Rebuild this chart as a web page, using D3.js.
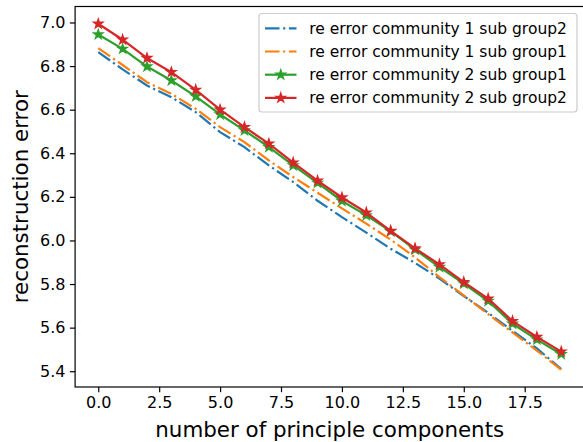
<!DOCTYPE html>
<html><head><meta charset="utf-8">
<script src="https://cdn.jsdelivr.net/npm/d3@7"></script>
<style>
body{margin:0;background:#fff}
svg{display:block}
text{font-family:"DejaVu Sans",sans-serif;fill:#000}
</style>
</head><body><svg id="c" width="583" height="442"></svg>
<script>
// ---- data ----
const components = [0,1,2,3,4,5,6,7,8,9,10,11,12,13,14,15,16,17,18,19];
const comm1Group2 = [6.864,6.785,6.711,6.657,6.589,6.497,6.428,6.344,6.268,6.182,6.107,6.036,5.962,5.897,5.825,5.745,5.668,5.585,5.505,5.410];
const comm1Group1 = [6.882,6.805,6.726,6.673,6.604,6.520,6.451,6.367,6.291,6.219,6.147,6.077,6.004,5.922,5.832,5.748,5.662,5.578,5.495,5.407];
const comm2Group1 = [6.945,6.879,6.798,6.734,6.661,6.578,6.505,6.428,6.344,6.264,6.181,6.115,6.042,5.958,5.878,5.802,5.722,5.618,5.545,5.478];
const comm2Group2 = [6.994,6.921,6.837,6.772,6.691,6.600,6.520,6.444,6.357,6.274,6.197,6.128,6.044,5.964,5.890,5.809,5.733,5.630,5.557,5.490];
const seriesLabels = ["re error community 1 sub group2","re error community 1 sub group1","re error community 2 sub group1","re error community 2 sub group2"];
const seriesColors = ["#1f77b4","#ff7f0e","#2ca02c","#d62728"];
const seriesStyle = ["dashdot","dashdot","star","star"];
const xTicks = [0,2.5,5,7.5,10,12.5,15,17.5];
const yTicks = [5.4,5.6,5.8,6.0,6.2,6.4,6.6,6.8,7.0];
const xLabel = "number of principle components";
const yLabel = "reconstruction error";

// ---- layout ----
const svg = d3.select("#c");
const L = 75.1, R = 584.4, T = 6.5, B = 387;
const allSeries = [comm1Group2, comm1Group1, comm2Group1, comm2Group2];
const xExt = d3.extent(components), xPad = (xExt[1]-xExt[0])*0.05;
const allV = allSeries.flat(), yExt = d3.extent(allV), yPad = (yExt[1]-yExt[0])*0.05;
const x = d3.scaleLinear().domain([xExt[0]-xPad, xExt[1]+xPad]).range([L, R]);
const y = d3.scaleLinear().domain([yExt[0]-yPad, yExt[1]+yPad]).range([B, T]);

const lw = 2.2, dash = "14.5,3.6,2.2,3.6";
const starSize = 4.6*4.6/0.8908130915292852;

svg.append("clipPath").attr("id","clip").append("rect").attr("x",L).attr("y",T).attr("width",R-L).attr("height",B-T);

const line = d3.line().x((d,i)=>x(components[i])).y(d=>y(d));
const plot = svg.append("g").attr("clip-path","url(#clip)");
allSeries.forEach((s,k)=>{
  const p = plot.append("path").datum(s).attr("d",line).attr("fill","none")
    .attr("stroke",seriesColors[k]).attr("stroke-width",lw).attr("stroke-linejoin","round");
  if(seriesStyle[k]==="dashdot") p.attr("stroke-dasharray",dash).attr("stroke-linecap","butt");
  if(seriesStyle[k]==="star"){
    plot.selectAll(null).data(s).enter().append("path")
      .attr("d",d3.symbol(d3.symbolStar,starSize)())
      .attr("transform",(d,i)=>`translate(${x(components[i])},${y(d)})`)
      .attr("fill",seriesColors[k]).attr("stroke",seriesColors[k]).attr("stroke-width",1.5).attr("stroke-linejoin","miter");
  }
});

// ---- axes ----
const fs = 16;
const xAxis = d3.axisBottom(x).tickValues(xTicks).tickFormat(d3.format(".1f")).tickSizeOuter(0).tickSize(5.2).tickPadding(4);
const yAxis = d3.axisLeft(y).tickValues(yTicks).tickFormat(d3.format(".1f")).tickSizeOuter(0).tickSize(5.2).tickPadding(4.5);
const gx = svg.append("g").attr("transform",`translate(0,${B})`).call(xAxis);
const gy = svg.append("g").attr("transform",`translate(${L},0)`).call(yAxis);
[gx,gy].forEach(g=>{
  g.select(".domain").remove();
  g.selectAll(".tick line").attr("stroke","#000").attr("stroke-width",1.2);
  g.selectAll(".tick text").attr("font-family","DejaVu Sans").attr("font-size",fs).attr("fill","#000");
});
// spines
svg.append("rect").attr("x",L).attr("y",T).attr("width",R-L).attr("height",B-T)
  .attr("fill","none").attr("stroke","#000").attr("stroke-width",1.2);

svg.append("text").attr("x",(L+R)/2).attr("y",437).attr("text-anchor","middle")
  .attr("font-size",21.4).text(xLabel);
svg.append("text").attr("transform",`translate(28,${(T+B)/2}) rotate(-90)`).attr("text-anchor","middle")
  .attr("font-size",21.4).text(yLabel);

// ---- legend ----
const lfs = 15.5;
const lg = svg.append("g");
const lx0 = 259, ly0 = 13.5, lw0 = 318, lh0 = 98.5;
lg.append("rect").attr("x",lx0).attr("y",ly0).attr("width",lw0).attr("height",lh0).attr("rx",3).attr("ry",3)
  .attr("fill","#fff").attr("fill-opacity",0.8).attr("stroke","#cccccc").attr("stroke-width",1.2);
seriesLabels.forEach((lab,k)=>{
  const cy = 28.3 + k*23.2;
  const hx0 = 265, hx1 = 296.5;
  const hl = lg.append("line").attr("x1",hx0).attr("x2",hx1).attr("y1",cy).attr("y2",cy)
    .attr("stroke",seriesColors[k]).attr("stroke-width",lw);
  if(seriesStyle[k]==="dashdot") hl.attr("stroke-dasharray",dash);
  if(seriesStyle[k]==="star"){
    lg.append("path").attr("d",d3.symbol(d3.symbolStar,starSize)())
      .attr("transform",`translate(${(hx0+hx1)/2},${cy})`)
      .attr("fill",seriesColors[k]).attr("stroke",seriesColors[k]).attr("stroke-width",1.5);
  }
  lg.append("text").attr("x",309.3).attr("y",cy).attr("dy","0.36em").attr("font-size",lfs).text(lab);
});
</script>
</body></html>
